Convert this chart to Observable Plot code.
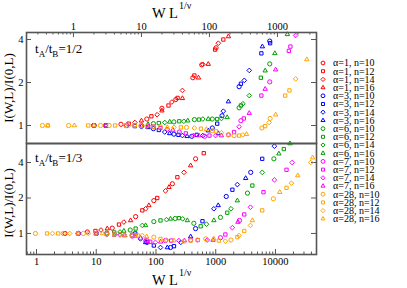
<!DOCTYPE html>
<html><head><meta charset="utf-8">
<script src="https://cdn.jsdelivr.net/npm/d3@7"></script>
<script src="https://cdn.jsdelivr.net/npm/@observablehq/plot@0.6"></script>
<style>
body{margin:0;background:#fff;}
#wrap{position:relative;width:407px;height:288px;background:#fff;font-family:"Liberation Serif","DejaVu Serif",serif;}
#wrap svg{position:absolute;left:0;top:0;}
#wrap svg text{font-family:"Liberation Serif","DejaVu Serif",serif;}
</style></head><body><div id="wrap"></div>
<script>
// ---- categories ----
const alphas = [1, 3, 6, 7, 28];
const alphaColors = ["#ff0000", "#0000ff", "#00a000", "#ff00ff", "#ffa500"];
const sizesN = [10, 12, 14, 16];
const sizeSymbols = ["circle", "square2", "diamond2", "triangle2"];
const topXTicks = [1, 10, 100, 1000];
const botXTicks = [1, 10, 100, 1000, 10000];
const yTicks = [1, 2, 4];
const panelTitles = ["1/2", "1/3"];

// ---- series: [W L^{1/nu}, I(W,L)/I(0,L), n] ; top panel tA/tB=1/2 ----
const topA1 = [[2,1,10],[3,1,12],[5,1.02,10],[6.5,1.03,12],[8,1.05,14],[10,1.08,16],[12,1.11,10],[14,1.16,12],[17,1.19,14],[20,1.27,16],[20,1.32,10],[25,1.38,12],[28,1.46,14],[32,1.52,10],[34,1.56,12],[40,1.76,14],[40,1.55,16],[57,2.16,10],[60,2.24,12],[69,2.16,16],[77,2.66,10],[80,2.68,14],[96,2.69,16],[121,3.4,12],[125,3.5,10],[135,3.77,14],[160,4.0,12],[190,4.2,16]];
const topA3 = [[2,1,10],[3,1,12],[6,1,10],[8,0.99,12],[10,0.98,14],[12.5,0.97,16],[15,0.95,10],[18,0.93,12],[22,0.9,14],[26,0.88,16],[30,0.87,10],[35,0.86,12],[40,0.85,14],[47,0.84,16],[55,0.84,10],[65,0.86,12],[80,0.85,14],[96,0.92,16],[110,0.96,10],[135,0.88,16],[130,1.03,12],[153,1.17,10],[160,1.26,14],[190,1.47,16],[273,1.87,10],[290,1.96,12],[325,2.07,14],[385,2.43,14],[580,3.2,12],[600,3.57,16],[770,3.9,10],[780,3.77,12]];
const topA6 = [[2,1,10],[3,1,12],[6,1,10],[8,1,12],[10,1.01,14],[12.5,1.02,16],[15,1.03,10],[18,1.04,12],[22,1.05,14],[26,1.06,16],[30,1.06,10],[36,1.07,12],[42,1.07,14],[48,1.08,16],[60,1.1,10],[70,1.1,12],[80,1.11,14],[96,1.11,16],[110,1.11,10],[130,1.11,12],[150,1.12,14],[182,1.14,16],[273,1.33,10],[290,1.38,12],[310,1.42,14],[385,1.62,14],[570,2.16,12],[660,2.42,16],[770,2.7,10],[915,3.2,16],[1400,4.35,16]];
const topA7 = [[2,1,10],[3,1,12],[6,1,10],[8,1,12],[10,1,14],[12.5,0.99,16],[15,0.98,10],[19,0.96,12],[24,0.94,14],[29,0.93,16],[36,0.9,10],[45,0.88,12],[58,0.85,14],[70,0.85,16],[85,0.84,10],[100,0.85,12],[123,0.85,14],[150,0.85,16],[190,0.86,10],[230,0.9,12],[273,0.98,14],[290,1.08,10],[320,1.12,12],[385,1.22,16],[580,1.62,12],[660,1.8,16],[770,2.02,10],[940,2.46,16],[1470,3.33,12],[1550,3.57,12],[1850,4.27,14]];
const topA28 = [[0.35,1,10],[0.42,1,12],[0.42,1,16],[0.85,1,10],[1.03,1,16],[1.65,1,12],[2.0,1,16],[2.5,1,10],[3.35,1,10],[4.1,1,12],[5.9,1,10],[6.5,1,14],[8.0,1,12],[9.8,1,10],[12,0.99,14],[15,0.98,12],[19,0.98,10],[24,0.97,16],[30,0.97,14],[38,0.97,12],[46,0.97,10],[60,0.96,14],[75,0.95,12],[90,0.94,16],[110,0.92,10],[125,0.91,12],[150,0.89,14],[190,0.86,16],[230,0.85,10],[273,0.85,12],[310,0.86,14],[350,0.87,16],[590,0.96,10],[660,0.99,12],[755,1.05,14],[780,1.12,10],[940,1.19,16],[1300,1.62,12],[1500,1.76,12],[1850,2.12,14],[2700,2.9,16]];

// ---- bottom panel tA/tB=1/3 ----
const botA1 = [[3,1,10],[5,1,12],[7.1,1.03,10],[9.7,1.05,12],[12,1.07,14],[15.3,1.1,16],[18.5,1.11,10],[24,1.19,12],[29,1.25,14],[37.6,1.29,16],[45.6,1.39,10],[59,1.57,12],[67,1.62,14],[76,1.73,16],[92,1.9,10],[105,2.0,12],[144,2.3,14],[165,2.47,16],[188,2.64,10],[228,3.0,12],[294,3.3,14],[380,3.77,16],[460,4.3,10],[630,4.8,12]];
const botA3 = [[5,1,10],[10,1,12],[15,0.99,10],[20,0.98,12],[25,0.98,14],[30,0.97,16],[40,0.97,10],[45,1.0,12],[55,0.9,14],[67,0.84,16],[71,0.84,10],[92,0.79,12],[119,0.76,14],[155,0.76,16],[175,0.76,10],[200,0.78,12],[260,0.84,14],[380,0.94,16],[460,1.1,10],[600,1.27,12],[930,1.62,14],[1100,1.73,16],[1500,2.06,10],[1900,2.35,12],[2300,2.6,14],[3170,2.94,16],[3850,3.3,10],[6000,4.3,12],[9600,5.5,14]];
const botA6 = [[5,1,10],[10,1,12],[15,1.01,10],[20,1.02,12],[25,1.03,14],[29,1.05,16],[37,1.07,10],[45.6,1.1,12],[59,1.17,14],[67,1.17,16],[92,1.26,10],[119,1.29,12],[150,1.31,14],[175,1.33,16],[210,1.34,10],[242,1.35,12],[280,1.33,14],[335,1.29,16],[430,1.22,10],[560,1.15,12],[700,1.2,14],[930,1.29,16],[1200,1.37,10],[1560,1.5,12],[1800,1.62,14],[2300,1.9,16],[3400,2.2,10],[4100,2.55,12],[6000,3.3,14],[9400,4.3,10],[11400,4.75,16],[13800,5.2,12],[17500,5.8,16]];
const botA7 = [[5,1,10],[10,1,12],[15,0.99,10],[20,0.98,12],[25,0.97,14],[30,0.96,16],[40,0.95,10],[45,0.96,12],[55,0.92,14],[67,0.88,16],[71,0.87,10],[80,0.85,12],[98,0.84,14],[120,0.85,16],[144,0.87,10],[180,0.87,12],[242,0.87,14],[300,0.87,16],[380,0.88,10],[500,0.88,12],[720,0.88,14],[900,0.88,16],[1200,0.92,10],[1450,0.98,12],[1900,1.12,14],[2350,1.25,16],[2500,1.29,10],[3000,1.45,12],[3800,1.67,14],[6300,2.24,12],[9600,2.85,14],[15300,3.47,12],[19000,4.0,14]];
const botA28 = [[0.96,1,10],[1.5,1,12],[1.85,1,14],[2.3,1,12],[2.8,1,10],[3.6,1,14],[4.9,1,12],[6.1,1,10],[7.4,1,14],[9.7,1,12],[12.7,1,16],[15,0.99,10],[20,0.98,12],[25,0.98,14],[30,0.97,16],[40,0.97,10],[50,0.96,12],[59,0.96,14],[70,0.94,16],[92,0.93,10],[119,0.9,12],[150,0.88,14],[200,0.87,16],[294,0.86,10],[380,0.87,12],[500,0.88,14],[680,0.9,10],[930,0.9,16],[1130,0.87,12],[1450,0.86,14],[1800,0.88,10],[2300,0.93,12],[2450,0.96,14],[3000,1.05,12],[3800,1.17,14],[4100,1.29,16],[6000,1.57,12],[9200,1.97,10],[11800,2.24,16],[15300,2.44,12],[18500,2.67,14],[23600,3.1,16],[39000,4.0,14],[41800,4.4,16]];

function rowsOf(list) {
  return list.flatMap(([a, arr]) => arr.map(([x, y, n]) => ({x, y, n, a})));
}
const topData = rowsOf([[1, topA1], [3, topA3], [6, topA6], [7, topA7], [28, topA28]]);
const botData = rowsOf([[1, botA1], [3, botA3], [6, botA6], [7, botA7], [28, botA28]]);

function minorTicks(lo, hi) {
  const out = [];
  for (let e = Math.floor(Math.log10(lo)); e <= Math.ceil(Math.log10(hi)); e++)
    for (let k = 2; k <= 9; k++) { const v = k * Math.pow(10, e); if (v > lo && v < hi) out.push(v); }
  return out;
}

const W = 407, H = 288, ML = 26, MR = 91;
const PW = W - ML - MR;
const GRAY = "#555";
const SERIF = "'Liberation Serif', 'DejaVu Serif', serif";

function panel({data, xDomain, yDomain, mt, mb, xTicks, xAnchor}) {
  const PH = H - mt - mb;
  const inner = (len) => xAnchor === "top" ? {insetBottom: PH - len} : {insetTop: PH - len};
  return Plot.plot({
    width: W, height: H,
    marginLeft: ML, marginRight: MR, marginTop: mt, marginBottom: mb,
    style: {background: "transparent", fontFamily: SERIF, fontSize: "10.5px", overflow: "visible", color: "#000"},
    x: {type: "log", domain: xDomain},
    y: {type: "log", domain: yDomain},
    color: {domain: alphas, range: alphaColors},
    symbol: {domain: sizesN, range: sizeSymbols},
    marks: [
      Plot.tickX(xTicks, {x: d => d, stroke: GRAY, strokeWidth: 1, ...inner(5)}),
      Plot.tickX(minorTicks(xDomain[0], xDomain[1]), {x: d => d, stroke: GRAY, strokeWidth: 1, ...inner(2.5)}),
      Plot.tickY(yTicks, {y: d => d, stroke: GRAY, strokeWidth: 1, insetRight: PW - 5}),
      Plot.tickY(yTicks, {y: d => d, stroke: GRAY, strokeWidth: 1, insetLeft: PW - 5}),
      Plot.axisX({ticks: xTicks, anchor: xAnchor, tickSize: 0, tickPadding: 3, label: null, tickFormat: d => String(d), fontFamily: SERIF}),
      Plot.axisY({ticks: yTicks, anchor: "left", tickSize: 0, tickPadding: 3, label: null, tickFormat: d => String(d), fontFamily: SERIF}),
      Plot.dot(data, {x: "x", y: "y", stroke: "a", symbol: "n", r: 2.1, fill: "none", strokeWidth: 1}),
      Plot.frame({stroke: GRAY, strokeWidth: 1.6})
    ]
  });
}

const wrap = document.getElementById("wrap");
wrap.appendChild(panel({data: topData, xDomain: [0.204, 3750], yDomain: [0.748, 4.48], mt: 32, mb: H - 143, xTicks: topXTicks, xAnchor: "top"}));
wrap.appendChild(panel({data: botData, xDomain: [0.68, 48600], yDomain: [0.663, 5.8], mt: 143, mb: H - 254, xTicks: botXTicks, xAnchor: "bottom"}));

// ---- annotations and legend ----
const svg = d3.select(wrap).append("svg").attr("width", W).attr("height", H)
  .style("font-family", SERIF).style("pointer-events", "none");

function xTitle(y) {
  const t = svg.append("text").attr("x", 152).attr("y", y).attr("font-size", 14.5).attr("font-family", SERIF);
  t.append("tspan").text("W L");
  t.append("tspan").attr("dy", -9).attr("dx", 1).attr("font-size", 10).text("1/ν");
}
xTitle(18);
xTitle(285);

[88, 203].forEach(cy => {
  svg.append("text").attr("transform", `translate(13,${cy}) rotate(-90)`).attr("text-anchor", "middle")
    .attr("font-size", 13).attr("font-family", SERIF).text("I(W,L)/I(0,L)");
});

function ratio(y, val) {
  const t = svg.append("text").attr("x", 35).attr("y", y).attr("font-size", 13).attr("font-family", SERIF);
  t.append("tspan").text("t");
  t.append("tspan").attr("dy", 3.5).attr("font-size", 9).text("A");
  t.append("tspan").attr("dy", -3.5).text("/t");
  t.append("tspan").attr("dy", 3.5).attr("font-size", 9).text("B");
  t.append("tspan").attr("dy", -3.5).text("=" + val);
}
ratio(53, panelTitles[0]);
ratio(162, panelTitles[1]);

const symTypes = {circle: d3.symbolCircle, square2: d3.symbolSquare2, diamond2: d3.symbolDiamond2, triangle2: d3.symbolTriangle2};
let row = 0;
alphas.forEach((a, ai) => {
  sizesN.forEach((n, ni) => {
    const y = 63 + row * 8.2;
    svg.append("path").attr("transform", `translate(323,${y})`)
      .attr("d", d3.symbol(symTypes[sizeSymbols[ni]], Math.PI * 1.9 * 1.9)())
      .attr("fill", "none").attr("stroke", alphaColors[ai]).attr("stroke-width", 1);
    svg.append("text").attr("x", 333).attr("y", y + 3.4).attr("font-size", 10).attr("font-family", SERIF)
      .text(`α=${a}, n=${n}`);
    row++;
  });
});
</script>
</body></html>
